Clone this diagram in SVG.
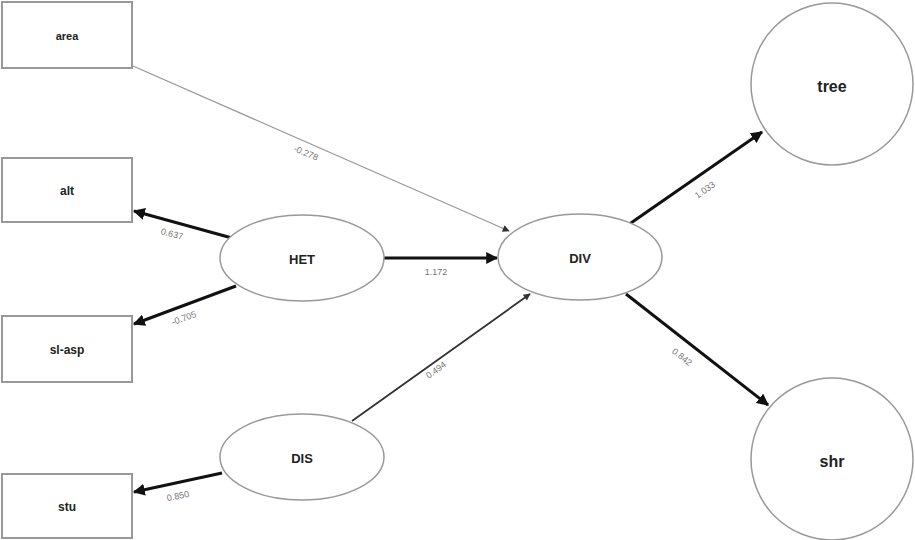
<svg xmlns="http://www.w3.org/2000/svg" width="915" height="540" viewBox="0 0 915 540">
<defs>
<marker id="ah" viewBox="0 0 10 10" refX="9" refY="5" markerWidth="4" markerHeight="4" orient="auto" markerUnits="strokeWidth"><path d="M0,0 L10,5 L0,10 z" fill="#111"/></marker>
<marker id="ahs" viewBox="0 0 10 10" refX="9" refY="5" markerWidth="9" markerHeight="7" orient="auto" markerUnits="userSpaceOnUse"><path d="M0,0 L10,5 L0,10 z" fill="#333"/></marker>
</defs>
<style>
.box{fill:#fff;stroke:#999;stroke-width:2}
.ell{fill:#fff;stroke:#999;stroke-width:1.5}
.nt{font-family:"Liberation Sans",Arial,sans-serif;font-weight:bold;fill:#222;text-anchor:middle;dominant-baseline:central}
.el{font-family:"Liberation Sans",Arial,sans-serif;font-size:9px;fill:#777;text-anchor:middle;dominant-baseline:central}
.thick{stroke:#111;stroke-width:3;fill:none;marker-end:url(#ah)}
.thin{stroke:#999;stroke-width:1.2;fill:none;marker-end:url(#ahs)}
.mid{stroke:#333;stroke-width:1.8;fill:none;marker-end:url(#ahs)}
</style>
<rect width="915" height="540" fill="#fff"/>
<g id="connectors">
<line class="thin" x1="133" y1="66" x2="509" y2="231"/>
<text class="el" transform="translate(306,153) rotate(23)">-0.278</text>
<line class="thick" x1="232" y1="238" x2="134" y2="211"/>
<text class="el" transform="translate(172,234) rotate(15)">0.637</text>
<line class="thick" x1="236" y1="286" x2="134" y2="324"/>
<text class="el" transform="translate(184,318) rotate(-20)">-0.705</text>
<line class="thick" x1="384" y1="258" x2="497" y2="258"/>
<text class="el" transform="translate(436,272)">1.172</text>
<line class="mid" x1="352" y1="421" x2="530" y2="294"/>
<text class="el" transform="translate(436,370) rotate(-36)">0.494</text>
<line class="thick" x1="222" y1="473" x2="134" y2="492"/>
<text class="el" transform="translate(178,496) rotate(-12)">0.850</text>
<line class="thick" x1="628" y1="225" x2="762" y2="132"/>
<text class="el" transform="translate(705,190) rotate(-35)">1.033</text>
<line class="thick" x1="626" y1="294" x2="768" y2="405"/>
<text class="el" transform="translate(682,357) rotate(38)">0.842</text>
</g>
<g id="area"><rect class="box" x="2" y="2" width="130" height="66"/><text class="nt" x="67" y="36" font-size="11">area</text></g>
<g id="alt"><rect class="box" x="2" y="158" width="130" height="64"/><text class="nt" x="67" y="191" font-size="12">alt</text></g>
<g id="sl-asp"><rect class="box" x="2" y="316" width="130" height="66"/><text class="nt" x="67" y="350" font-size="12">sl-asp</text></g>
<g id="stu"><rect class="box" x="2" y="474" width="130" height="64"/><text class="nt" x="67" y="507" font-size="12">stu</text></g>
<g id="HET"><ellipse class="ell" cx="302" cy="258" rx="82" ry="43"/><text class="nt" x="302" y="259" font-size="13">HET</text></g>
<g id="DIS"><ellipse class="ell" cx="302" cy="457" rx="82" ry="43"/><text class="nt" x="302" y="458" font-size="13">DIS</text></g>
<g id="DIV"><ellipse class="ell" cx="580" cy="257" rx="82" ry="43"/><text class="nt" x="580" y="258" font-size="13">DIV</text></g>
<g id="tree"><circle class="ell" cx="832" cy="84" r="81"/><text class="nt" x="832" y="86" font-size="16">tree</text></g>
<g id="shr"><circle class="ell" cx="832" cy="459" r="81"/><text class="nt" x="832" y="461" font-size="16">shr</text></g>
</svg>
